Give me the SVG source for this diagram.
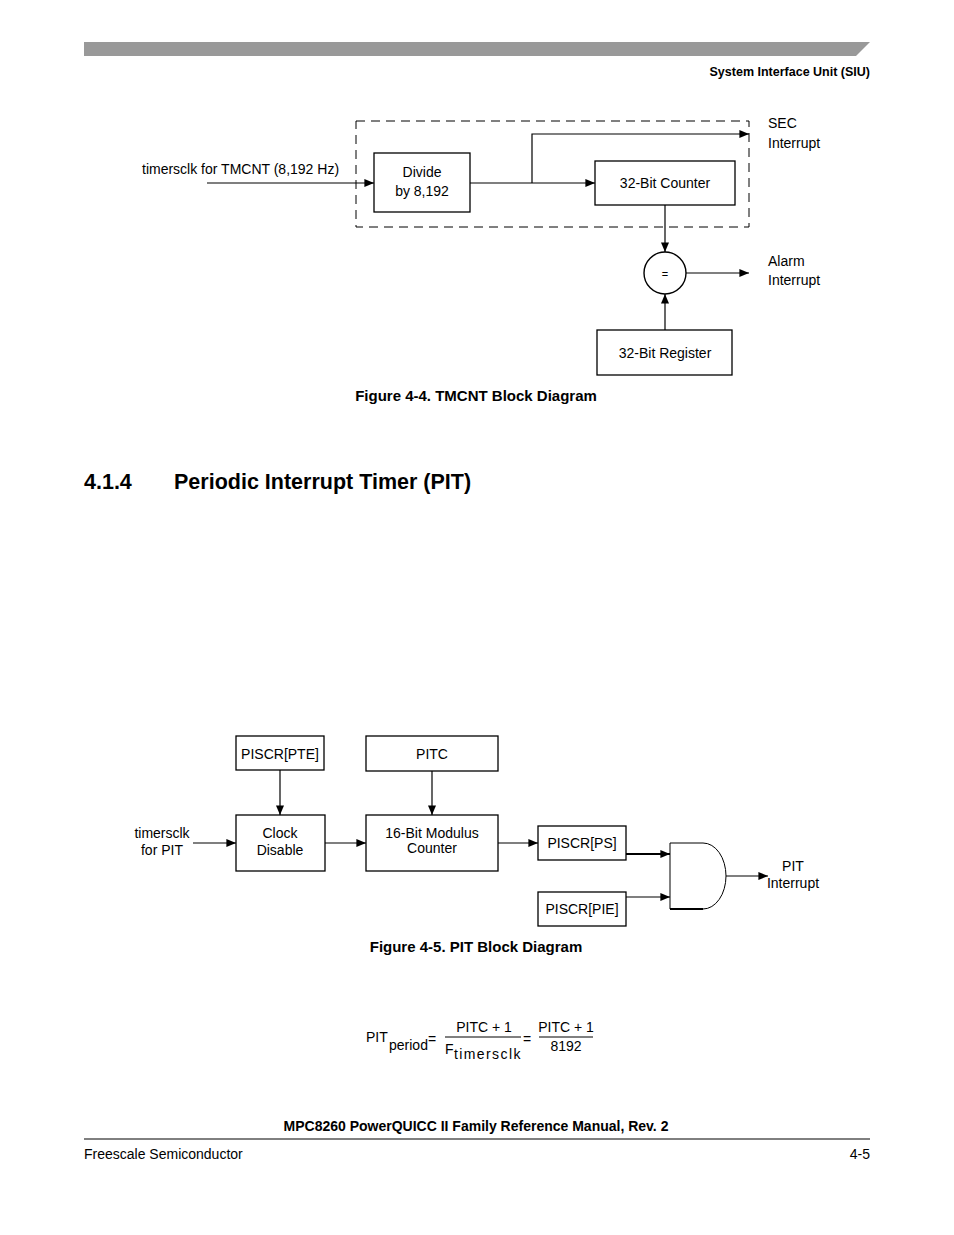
<svg xmlns="http://www.w3.org/2000/svg" width="954" height="1235" viewBox="0 0 954 1235">
<style>
text{font-family:"Liberation Sans",Arial,sans-serif;fill:#000}
.lbl{font-size:14px}
.ctr{text-anchor:middle}
.b{font-weight:bold}
.box{fill:#fff;stroke:#000;stroke-width:1.3}
.ln{fill:none;stroke:#000;stroke-width:1.2}
</style>
<defs>
<marker id="ah" viewBox="0 0 12 10" refX="12" refY="5" markerWidth="13" markerHeight="8" markerUnits="userSpaceOnUse" orient="auto">
<path d="M0,0 L12,5 L0,10 Z" fill="#000"/>
</marker>
</defs>
<rect width="954" height="1235" fill="#fff"/>
<g id="header">
<polygon points="84,42 870,42 856,56 84,56" fill="#999"/>
<text x="870" y="76" font-size="12.5" class="b" text-anchor="end">System Interface Unit (SIU)</text>
</g>
<g id="fig44">
<g id="tmcnt-boundary"><rect x="356" y="121" width="393" height="106" fill="none" stroke="#000" stroke-width="1" stroke-dasharray="9,6"/></g>
<g id="divide"><rect class="box" x="374" y="153" width="96" height="59" stroke-width="2"/><text class="lbl ctr" x="422" y="177">Divide</text><text class="lbl ctr" x="422" y="196">by 8,192</text></g>
<g id="counter32"><rect class="box" x="595" y="161" width="140" height="44" stroke-width="1.6"/><text class="lbl ctr" x="665" y="188">32-Bit Counter</text></g>
<g id="compare"><circle cx="665" cy="273" r="21" fill="#fff" stroke="#000" stroke-width="1.4"/><text class="ctr" x="665" y="278" font-size="11">=</text></g>
<g id="register32"><rect class="box" x="597" y="330" width="135" height="45" stroke-width="1.6"/><text class="lbl ctr" x="665" y="358">32-Bit Register</text></g>
<g id="labels44">
<text class="lbl" x="142" y="174">timersclk for TMCNT (8,192 Hz)</text>
<text class="lbl" x="768" y="128">SEC</text><text class="lbl" x="768" y="148">Interrupt</text>
<text class="lbl" x="768" y="266">Alarm</text><text class="lbl" x="768" y="285">Interrupt</text>
</g>
<g id="connectors44">
<line class="ln" x1="207" y1="183" x2="374" y2="183" marker-end="url(#ah)"/>
<line class="ln" x1="470" y1="183" x2="595" y2="183" marker-end="url(#ah)"/>
<polyline class="ln" points="532,183 532,134 749,134" marker-end="url(#ah)"/>
<line class="ln" x1="665" y1="205" x2="665" y2="252" marker-end="url(#ah)"/>
<line class="ln" x1="686" y1="273" x2="749" y2="273" marker-end="url(#ah)"/>
<line class="ln" x1="665" y1="330" x2="665" y2="294" marker-end="url(#ah)"/>
</g>
<text x="476" y="401" font-size="15" class="b ctr">Figure 4-4. TMCNT Block Diagram</text>
</g>
<g id="heading">
<text x="84" y="489" font-size="21.5" class="b">4.1.4</text>
<text x="174" y="489" font-size="21.5" class="b">Periodic Interrupt Timer (PIT)</text>
</g>
<g id="fig45">
<g id="pte"><rect class="box" x="236" y="736" width="88" height="34" stroke-width="1"/><text class="lbl ctr" x="280" y="759">PISCR[PTE]</text></g>
<g id="pitc"><rect class="box" x="366" y="736" width="132" height="35" stroke-width="1"/><text class="lbl ctr" x="432" y="759">PITC</text></g>
<g id="clockdisable"><rect class="box" x="236" y="815" width="89" height="56" stroke-width="1"/><text class="lbl ctr" x="280" y="838">Clock</text><text class="lbl ctr" x="280" y="855">Disable</text></g>
<g id="modcounter"><rect class="box" x="366" y="815" width="132" height="56" stroke-width="1"/><text class="lbl ctr" x="432" y="838">16-Bit Modulus</text><text class="lbl ctr" x="432" y="853">Counter</text></g>
<g id="ps"><rect class="box" x="538" y="826" width="88" height="34" stroke-width="1"/><text class="lbl ctr" x="582" y="848">PISCR[PS]</text></g>
<g id="pie"><rect class="box" x="538" y="892" width="88" height="34" stroke-width="1"/><text class="lbl ctr" x="582" y="914">PISCR[PIE]</text></g>
<g id="andgate"><path d="M670,843 L703,843 A23,33 0 0 1 703,909 L670,909 Z" fill="#fff" stroke="#000" stroke-width="1"/><line x1="670" y1="909" x2="703" y2="909" stroke="#000" stroke-width="2"/></g>
<g id="labels45">
<text class="lbl ctr" x="162" y="838">timersclk</text><text class="lbl ctr" x="162" y="855">for PIT</text>
<text class="lbl ctr" x="793" y="871">PIT</text><text class="lbl ctr" x="793" y="888">Interrupt</text>
</g>
<g id="connectors45">
<line class="ln" x1="280" y1="770" x2="280" y2="815" marker-end="url(#ah)"/>
<line class="ln" x1="432" y1="771" x2="432" y2="815" marker-end="url(#ah)"/>
<line class="ln" x1="193" y1="843" x2="236" y2="843" marker-end="url(#ah)"/>
<line class="ln" x1="325" y1="843" x2="366" y2="843" marker-end="url(#ah)"/>
<line class="ln" x1="498" y1="843" x2="538" y2="843" marker-end="url(#ah)"/>
<line x1="626" y1="854" x2="670" y2="854" stroke="#000" stroke-width="2.2" marker-end="url(#ah)"/>
<line class="ln" x1="626" y1="897" x2="670" y2="897" marker-end="url(#ah)"/>
<line class="ln" x1="726" y1="876" x2="768" y2="876" marker-end="url(#ah)"/>
</g>
<text x="476" y="952" font-size="15" class="b ctr">Figure 4-5. PIT Block Diagram</text>
</g>
<g id="formula">
<text x="366" y="1042" font-size="14">PIT</text>
<text x="389" y="1050" font-size="14">period</text>
<text x="428" y="1044" font-size="14">=</text>
<text x="484" y="1032" font-size="14" class="ctr">PITC + 1</text>
<line x1="445" y1="1037" x2="521" y2="1037" stroke="#000" stroke-width="1"/>
<text x="445" y="1054" font-size="14">F</text>
<text x="454" y="1059" font-size="14" letter-spacing="1.4">timersclk</text>
<text x="523" y="1044" font-size="14">=</text>
<text x="566" y="1032" font-size="14" class="ctr">PITC + 1</text>
<line x1="539" y1="1037" x2="593" y2="1037" stroke="#000" stroke-width="1"/>
<text x="566" y="1051" font-size="14" class="ctr">8192</text>
</g>
<g id="footer">
<text x="476" y="1131" font-size="14" class="b ctr">MPC8260 PowerQUICC II Family Reference Manual, Rev. 2</text>
<line x1="84" y1="1139" x2="870" y2="1139" stroke="#000" stroke-width="1"/>
<text x="84" y="1159" font-size="14">Freescale Semiconductor</text>
<text x="870" y="1159" font-size="14" text-anchor="end">4-5</text>
</g>
</svg>
